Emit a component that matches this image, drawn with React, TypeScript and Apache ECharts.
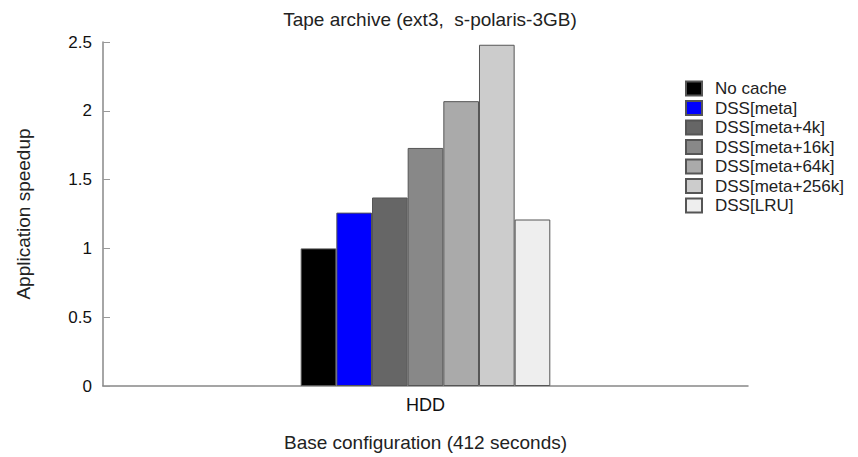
import React, { useEffect, useRef } from "react";
import * as echarts from "echarts";

const categories = ["HDD"];
const seriesNames = [
  "No cache",
  "DSS[meta]",
  "DSS[meta+4k]",
  "DSS[meta+16k]",
  "DSS[meta+64k]",
  "DSS[meta+256k]",
  "DSS[LRU]",
];
const seriesValues = [1.0, 1.26, 1.37, 1.73, 2.07, 2.48, 1.21];
const seriesColors = ["#000000", "#0000ff", "#666666", "#888888", "#aaaaaa", "#cccccc", "#eeeeee"];
const yTicks = { min: 0, max: 2.5, interval: 0.5 };

const FONT = "'Liberation Sans', Arial, Helvetica, sans-serif";

export default function App() {
  const ref = useRef<HTMLDivElement>(null);
  useEffect(() => {
    if (!ref.current) return;
    const chart = echarts.init(ref.current, undefined, { renderer: "svg" });
    chart.setOption({
      animation: false,
      backgroundColor: "#ffffff",
      textStyle: { fontFamily: FONT },
      title: {
        text: "Tape archive (ext3,  s-polaris-3GB)",
        left: 425,
        textAlign: "center",
        top: 5,
        textStyle: { fontFamily: FONT, fontSize: 19, fontWeight: "normal", color: "#222" },
      },
      legend: {
        orient: "vertical",
        left: 685,
        top: 80,
        padding: 0,
        itemWidth: 16,
        itemHeight: 14,
        itemGap: 2.5,
        icon: "rect",
        data: seriesNames,
        textStyle: { fontFamily: FONT, fontSize: 17, color: "#222", padding: [0, 0, 0, 8] },
      },
      grid: { left: 103, right: 110, top: 42, bottom: 68, containLabel: false },
      xAxis: {
        type: "category",
        data: categories,
        name: "Base configuration (412 seconds)",
        nameLocation: "middle",
        nameGap: 47,
        nameTextStyle: { fontFamily: FONT, fontSize: 19, color: "#222" },
        axisLine: { lineStyle: { color: "#888", width: 1.5 } },
        axisTick: { show: false },
        axisLabel: { fontFamily: FONT, fontSize: 18, color: "#111", margin: 10 },
      },
      yAxis: {
        type: "value",
        min: yTicks.min,
        max: yTicks.max,
        interval: yTicks.interval,
        name: "Application speedup",
        nameLocation: "middle",
        nameGap: 70,
        nameTextStyle: { fontFamily: FONT, fontSize: 19, color: "#222" },
        axisLine: { show: true, lineStyle: { color: "#888", width: 1.5 } },
        axisTick: { show: true, inside: true, length: 7, lineStyle: { color: "#999" } },
        axisLabel: { fontFamily: FONT, fontSize: 17, color: "#111", margin: 11 },
        splitLine: { show: false },
      },
      series: seriesNames.map((name, i) => ({
        name,
        type: "bar",
        data: [seriesValues[i]],
        barGap: "0%",
        barCategoryGap: "61.3%",
        itemStyle: { color: seriesColors[i], borderColor: "#555", borderWidth: 1 },
      })),
    });
    return () => chart.dispose();
  }, []);
  return (
    <div
      ref={ref}
      style={{ position: "fixed", left: 0, top: 0, width: 858, height: 457 }}
    />
  );
}
